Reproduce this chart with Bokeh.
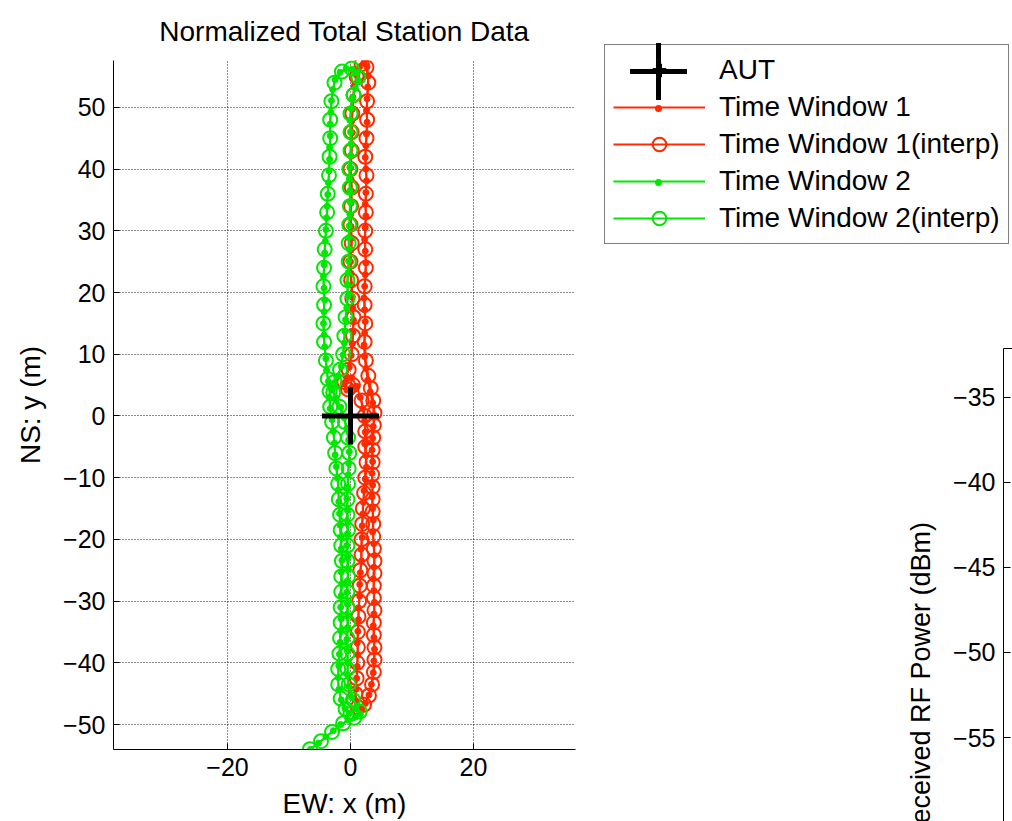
import math
from bokeh.plotting import figure
from bokeh.models import Range1d, FixedTicker, Legend, LegendItem, Label, LinearAxis
from bokeh.layouts import row, column
from bokeh.embed import file_html
from bokeh.resources import INLINE

# ---------------- data ----------------
aut_x = [0.0]
aut_y = [0.0]

# Time Window 1, raw total-station points (x, y) in metres
tw1_raw = [
    (-0.8, 5.5), (0.2, 6.2), (1.0, 4.8), (1.6, 3.0), (2.0, 1.2), (2.3, -0.8), (2.4, -2.6),
    (2.3, -4.5), (2.5, -6.4), (2.6, -8.3), (2.4, -10.2), (2.2, -12.1), (2.1, -14.0),
    (2.0, -15.9), (1.9, -17.8), (1.9, -19.7), (1.7, -21.6), (1.8, -23.5), (1.6, -25.4),
    (1.5, -27.3), (1.5, -29.2), (1.3, -31.1), (1.3, -33.0), (1.2, -34.9), (1.1, -36.8),
    (1.2, -38.7), (1.1, -40.6), (1.0, -42.5), (0.9, -44.3), (0.7, -46.0), (0.9, -47.4),
    (1.7, -47.6), (2.4, -46.6), (3.0, -45.2), (3.4, -43.5), (3.7, -41.6), (3.8, -39.7),
    (3.9, -37.8), (3.8, -35.9), (3.7, -34.0), (3.8, -32.1), (3.9, -30.2), (3.8, -28.3),
    (3.7, -26.4), (3.8, -24.5), (3.9, -22.6), (3.8, -20.7), (3.6, -18.8), (3.7, -16.9),
    (3.6, -15.0), (3.5, -13.1), (3.6, -11.2), (3.5, -9.3), (3.6, -7.4), (3.5, -5.5),
    (3.6, -3.6), (3.7, -1.7), (3.8, 0.2), (3.6, 2.1), (3.2, 3.9), (2.8, 5.8), (2.5, 7.7),
    (2.3, 9.6), (2.2, 11.5), (2.3, 13.4), (2.4, 15.3), (2.3, 17.2), (2.2, 19.1), (2.3, 21.0),
    (2.4, 22.9), (2.5, 24.8), (2.4, 26.7), (2.3, 28.6), (2.4, 30.5), (2.5, 32.4), (2.4, 34.3),
    (2.5, 36.2), (2.6, 38.1), (2.5, 40.0), (2.4, 41.9), (2.5, 43.8), (2.6, 45.7), (2.7, 47.6),
    (2.6, 49.5), (2.7, 51.4), (2.8, 53.3), (2.9, 55.1), (2.7, 56.6), (2.2, 57.3), (1.5, 56.6),
    (1.0, 55.2), (0.6, 53.5), (0.4, 51.6), (0.3, 49.7), (0.2, 47.8), (0.3, 45.9), (0.2, 44.0),
    (0.1, 42.1), (0.0, 40.2), (0.1, 38.3), (0.2, 36.4), (0.1, 34.5), (0.0, 32.6), (0.1, 30.7),
    (0.2, 28.8), (0.1, 26.9), (0.0, 25.0), (0.1, 23.1), (0.2, 21.2), (0.3, 19.3), (0.4, 17.4),
    (0.5, 15.5), (0.4, 13.6), (0.3, 11.7), (0.1, 9.8), (-0.2, 7.9), (-0.7, 6.4), (-1.2, 5.2),
    (-0.6, 4.2), (0.2, 4.6),
]

# Time Window 1, interpolated points
tw1_interp = [
    (1.8, 2.5), (2.3, 0.0), (2.4, -2.5), (2.4, -5.0), (2.6, -7.5), (2.4, -10.0), (2.2, -12.5),
    (2.0, -15.0), (1.9, -17.5), (1.8, -20.0), (1.8, -22.5), (1.6, -25.0), (1.5, -27.5),
    (1.4, -30.0), (1.3, -32.5), (1.2, -35.0), (1.2, -37.5), (1.1, -40.0), (1.0, -42.5),
    (0.8, -45.0), (1.2, -47.2), (2.2, -46.8), (3.0, -45.3), (3.5, -43.5), (3.8, -41.5),
    (3.9, -39.5), (3.9, -37.5), (3.8, -35.5), (3.8, -33.5), (3.9, -31.5), (3.8, -29.5),
    (3.8, -27.5), (3.9, -25.5), (3.9, -23.5), (3.8, -21.5), (3.7, -19.5), (3.7, -17.5),
    (3.6, -15.5), (3.6, -13.5), (3.6, -11.5), (3.5, -9.5), (3.6, -7.5), (3.6, -5.5),
    (3.7, -3.5), (3.8, -1.5), (3.9, 0.5), (3.7, 2.5), (3.3, 4.5), (2.9, 6.5), (2.5, 9.0),
    (2.3, 12.0), (2.4, 15.0), (2.3, 18.0), (2.3, 21.0), (2.5, 24.0), (2.4, 27.0), (2.4, 30.0),
    (2.5, 33.0), (2.5, 36.0), (2.6, 39.0), (2.4, 42.0), (2.6, 45.0), (2.7, 48.0), (2.7, 51.0),
    (2.9, 54.0), (2.6, 56.5), (1.8, 57.0), (1.0, 55.0), (0.5, 52.0), (0.3, 49.0), (0.2, 46.0),
    (0.2, 43.0), (0.0, 40.0), (0.2, 37.0), (0.1, 34.0), (0.0, 31.0), (0.2, 28.0), (0.0, 25.0),
    (0.1, 22.0), (0.3, 19.0), (0.5, 16.0), (0.4, 13.0), (0.2, 10.0), (-0.3, 7.5), (-1.0, 5.5),
    (-0.4, 4.3), (0.4, 5.0),
]

# Time Window 2, raw total-station points
tw2_raw = [
    (-6.5, -54.0), (-5.2, -53.0), (-4.0, -52.0), (-2.8, -51.0), (-1.6, -50.0), (-0.4, -49.3),
    (0.8, -48.8), (1.6, -48.3), (1.0, -47.0), (0.2, -45.6), (-0.3, -43.8), (-0.5, -41.9),
    (-0.4, -40.0), (-0.5, -38.1), (-0.6, -36.2), (-0.5, -34.3), (-0.4, -32.4), (-0.5, -30.5),
    (-0.6, -28.6), (-0.5, -26.7), (-0.4, -24.8), (-0.5, -22.9), (-0.6, -21.0), (-0.5, -19.1),
    (-0.4, -17.2), (-0.5, -15.3), (-0.6, -13.4), (-0.5, -11.5), (-0.4, -9.6), (-0.3, -7.7),
    (-0.2, -5.8), (-0.3, -3.9), (-0.6, -2.0), (-1.0, -0.3), (-1.6, 1.4), (-2.3, 2.9),
    (-3.0, 4.2), (-3.6, 5.6), (-3.9, 7.4), (-4.0, 9.3), (-4.2, 11.2), (-4.3, 13.1),
    (-4.4, 15.0), (-4.3, 16.9), (-4.2, 18.8), (-4.3, 20.7), (-4.4, 22.6), (-4.3, 24.5),
    (-4.2, 26.4), (-4.1, 28.3), (-4.0, 30.2), (-3.9, 32.1), (-3.8, 34.0), (-3.7, 35.9),
    (-3.6, 37.8), (-3.5, 39.7), (-3.4, 41.6), (-3.4, 43.5), (-3.3, 45.4), (-3.3, 47.3),
    (-3.2, 49.2), (-3.1, 51.1), (-2.9, 52.9), (-2.5, 54.5), (-1.7, 55.7), (-0.7, 56.3),
    (0.3, 56.2), (1.1, 55.6), (1.3, 54.4), (0.8, 53.1), (0.3, 51.6), (0.1, 49.8), (-0.1, 47.9),
    (0.0, 46.0), (0.1, 44.1), (0.0, 42.2), (-0.1, 40.3), (-0.2, 38.4), (-0.1, 36.5),
    (0.0, 34.6), (-0.1, 32.7), (-0.2, 30.8), (-0.3, 28.9), (-0.2, 27.0), (-0.3, 25.1),
    (-0.4, 23.2), (-0.5, 21.3), (-0.4, 19.4), (-0.6, 17.5), (-0.8, 15.6), (-0.9, 13.7),
    (-1.0, 11.8), (-1.2, 9.9), (-1.5, 8.0), (-2.0, 6.5), (-2.6, 5.4), (-3.2, 4.5),
    (-3.5, 3.0), (-3.3, 1.2), (-3.0, -0.6), (-2.8, -2.5), (-2.6, -4.4), (-2.5, -6.3),
    (-2.3, -8.2), (-2.1, -10.1), (-2.0, -12.0), (-1.9, -13.9), (-1.8, -15.8), (-1.7, -17.7),
    (-1.6, -19.6), (-1.5, -21.5), (-1.4, -23.4), (-1.5, -25.3), (-1.4, -27.2), (-1.5, -29.1),
    (-1.6, -31.0), (-1.5, -32.9), (-1.6, -34.8), (-1.7, -36.7), (-1.8, -38.6), (-1.9, -40.5),
    (-2.0, -42.4), (-1.9, -44.3), (-1.5, -46.0), (-0.9, -47.4), (-0.2, -48.2),
]

# Time Window 2, interpolated points
tw2_interp = [
    (-6.6, -54.0), (-4.8, -52.7), (-3.0, -51.2), (-1.2, -49.8), (0.6, -48.9), (1.5, -47.9),
    (0.4, -46.0), (-0.3, -43.5), (-0.5, -41.0), (-0.5, -38.5), (-0.5, -36.0), (-0.4, -33.5),
    (-0.5, -31.0), (-0.5, -28.5), (-0.4, -26.0), (-0.5, -23.5), (-0.5, -21.0), (-0.4, -18.5),
    (-0.5, -16.0), (-0.5, -13.5), (-0.4, -11.0), (-0.3, -8.5), (-0.2, -6.0), (-0.4, -3.5),
    (-0.9, -1.0), (-1.8, 1.5), (-2.8, 3.8), (-3.7, 6.0), (-4.0, 9.0), (-4.3, 12.0),
    (-4.4, 15.0), (-4.3, 18.0), (-4.4, 21.0), (-4.3, 24.0), (-4.2, 27.0), (-4.0, 30.0),
    (-3.8, 33.0), (-3.7, 36.0), (-3.5, 39.0), (-3.4, 42.0), (-3.3, 45.0), (-3.3, 48.0),
    (-3.1, 51.0), (-2.6, 54.0), (-1.4, 55.8), (0.2, 56.3), (1.3, 54.9), (0.5, 52.0),
    (0.0, 49.0), (0.0, 46.0), (0.0, 43.0), (-0.2, 40.0), (-0.1, 37.0), (-0.1, 34.0),
    (-0.2, 31.0), (-0.3, 28.0), (-0.3, 25.0), (-0.5, 22.0), (-0.5, 19.0), (-0.8, 16.0),
    (-1.0, 13.0), (-1.2, 10.0), (-1.7, 7.5), (-2.6, 5.5), (-3.4, 4.0), (-3.3, 1.5),
    (-3.0, -1.0), (-2.7, -3.5), (-2.5, -6.0), (-2.3, -8.5), (-2.0, -11.0), (-1.9, -13.5),
    (-1.7, -16.0), (-1.6, -18.5), (-1.5, -21.0), (-1.4, -23.5), (-1.5, -26.0), (-1.5, -28.5),
    (-1.6, -31.0), (-1.6, -33.5), (-1.7, -36.0), (-1.8, -38.5), (-2.0, -41.0), (-2.0, -43.5),
    (-1.6, -45.8), (-0.8, -47.5), (0.0, -48.3),
]

x_ticks = [-20, 0, 20]
y_ticks = [-50, -40, -30, -20, -10, 0, 10, 20, 30, 40, 50]
rf_ticks = [-60, -55, -50, -45, -40, -35]

labels = ["AUT", "Time Window 1", "Time Window 1(interp)",
          "Time Window 2", "Time Window 2(interp)"]

# ---------------- styling ----------------
FONT = "Liberation Sans"
RED = "#ff2a00"
GREEN = "#00e800"
LW = 2.0
PAGE_H = 821


def xs(pts):
    return [p[0] for p in pts]


def ys(pts):
    return [p[1] for p in pts]


def no_align(fig):
    if "frame_align" in fig.properties():
        fig.frame_align = False


# ---------------- main plot ----------------
p = figure(width=600, height=PAGE_H, output_backend="svg", toolbar_location=None,
           x_range=Range1d(-38.54, 36.59), y_range=Range1d(-54.05, 57.6),
           min_border_left=113, min_border_right=25, min_border_top=60,
           min_border_bottom=71)
no_align(p)
p.title.text = "Normalized Total Station Data"
p.title.align = "center"
p.title.text_font = FONT
p.title.text_font_size = "28px"
p.title.text_font_style = "normal"
p.title.text_color = "black"
p.title.standoff = 27
p.outline_line_color = None
p.background_fill_color = "white"
p.border_fill_color = "white"

p.xaxis.ticker = FixedTicker(ticks=x_ticks)
p.yaxis.ticker = FixedTicker(ticks=y_ticks)
p.xaxis.axis_label = "EW: x (m)"
p.yaxis.axis_label = "NS: y (m)"
for ax in (p.xaxis[0], p.yaxis[0]):
    ax.major_tick_in = 6
    ax.major_tick_out = 0
    ax.minor_tick_line_color = None
    ax.axis_line_color = "black"
    ax.major_tick_line_color = "black"
    ax.major_label_text_font = FONT
    ax.major_label_text_font_size = "25px"
    ax.major_label_text_color = "black"
    ax.axis_label_text_font = FONT
    ax.axis_label_text_font_size = "28px"
    ax.axis_label_text_font_style = "normal"
    ax.axis_label_text_color = "black"
p.xaxis.major_label_standoff = 8
p.xaxis.axis_label_standoff = 9
p.yaxis.major_label_standoff = 8
p.yaxis.axis_label_standoff = 14

for g in (p.xgrid[0], p.ygrid[0]):
    g.grid_line_color = "black"
    g.grid_line_dash = "1 2"
    g.grid_line_width = 1
    g.grid_line_alpha = 0.9
p.xgrid.ticker = FixedTicker(ticks=x_ticks)
p.ygrid.ticker = FixedTicker(ticks=y_ticks)

p.line(xs(tw1_raw), ys(tw1_raw), line_color=RED, line_width=LW)
p.scatter(xs(tw1_raw), ys(tw1_raw), marker="circle", size=6,
          fill_color=RED, line_color=RED)
p.line(xs(tw1_interp), ys(tw1_interp), line_color=RED, line_width=LW)
p.scatter(xs(tw1_interp), ys(tw1_interp), marker="circle", size=14,
          fill_color=None, line_color=RED, line_width=LW)

p.line(xs(tw2_raw), ys(tw2_raw), line_color=GREEN, line_width=LW)
p.scatter(xs(tw2_raw), ys(tw2_raw), marker="circle", size=6,
          fill_color=GREEN, line_color=GREEN)
p.line(xs(tw2_interp), ys(tw2_interp), line_color=GREEN, line_width=LW)
p.scatter(xs(tw2_interp), ys(tw2_interp), marker="circle", size=14,
          fill_color=None, line_color=GREEN, line_width=LW)

p.scatter(aut_x, aut_y, marker="cross", size=57, line_color="black", line_width=5)


def blank(width, height):
    f = figure(width=width, height=height, output_backend="svg",
               toolbar_location=None, x_axis_location=None, y_axis_location=None,
               x_range=Range1d(0, width), y_range=Range1d(0, height),
               min_border_left=0, min_border_right=0, min_border_top=0,
               min_border_bottom=0)
    no_align(f)
    f.grid.visible = False
    f.outline_line_color = None
    f.background_fill_color = "white"
    f.border_fill_color = "white"
    return f


# ---------------- legend panel ----------------
RIGHT_W = 412
LEG_H = 300
pl = blank(RIGHT_W, LEG_H)
pad, gw, gh, sp = 8, 92, 34, 3
leg_left, leg_bottom = 4, 56
n_rows = len(labels)
leg_height = 2 * pad + n_rows * gh + (n_rows - 1) * sp
cx = leg_left + pad + gw / 2
row_y = [leg_bottom + leg_height - pad - gh / 2 - i * (gh + sp) for i in range(n_rows)]
off = [-100, -99]  # stand-in line glyphs kept outside the visible range

# legend glyphs drawn at full size on top of the legend's own (smaller) copies
r_aut = pl.scatter([cx], [row_y[0]], marker="cross", size=57, line_color="black",
                   line_width=5)
l1 = pl.line(off, [0, 0], line_color=RED, line_width=LW)
m1 = pl.scatter([cx], [row_y[1]], marker="dot", size=28, line_color=RED,
                fill_color=RED)
l1i = pl.line(off, [0, 0], line_color=RED, line_width=LW)
m1i = pl.scatter(off[:1], [0], marker="circle", size=14, fill_color=None,
                 line_color=RED, line_width=LW)
l2 = pl.line(off, [0, 0], line_color=GREEN, line_width=LW)
m2 = pl.scatter([cx], [row_y[3]], marker="dot", size=28, line_color=GREEN,
                fill_color=GREEN)
l2i = pl.line(off, [0, 0], line_color=GREEN, line_width=LW)
m2i = pl.scatter(off[:1], [0], marker="circle", size=14, fill_color=None,
                 line_color=GREEN, line_width=LW)

legend = Legend(items=[
    LegendItem(label=labels[0], renderers=[r_aut]),
    LegendItem(label=labels[1], renderers=[l1, m1]),
    LegendItem(label=labels[2], renderers=[l1i, m1i]),
    LegendItem(label=labels[3], renderers=[l2, m2]),
    LegendItem(label=labels[4], renderers=[l2i, m2i]),
], location=(leg_left, leg_bottom), glyph_width=gw, glyph_height=gh, spacing=sp,
    padding=pad, margin=0, label_standoff=14,
    label_text_font=FONT, label_text_font_size="28px", label_text_color="black",
    border_line_color="black", border_line_width=1.5,
    background_fill_alpha=0)
pl.add_layout(legend)

# ---------------- partly visible second axes ----------------
LOW_H = PAGE_H - LEG_H
LAB_W = 340
pt = blank(LAB_W, LOW_H)
pt.add_layout(Label(x=320, y=139, text="Received RF Power (dBm)", angle=math.pi / 2,
                    text_align="center", text_baseline="middle",
                    text_font=FONT, text_font_size="27px", text_color="black"))

p2 = figure(width=RIGHT_W - LAB_W, height=LOW_H, output_backend="svg",
            toolbar_location=None,
            x_range=Range1d(0, 1), y_range=Range1d(-59.94, -32.12),
            x_axis_location=None,
            min_border_left=63, min_border_right=0, min_border_top=48,
            min_border_bottom=0)
no_align(p2)
p2.grid.visible = False
p2.outline_line_color = None
p2.background_fill_color = "white"
p2.border_fill_color = "white"
ay = p2.yaxis[0]
ay.ticker = FixedTicker(ticks=rf_ticks)
ay.major_tick_in = 7
ay.major_tick_out = 0
ay.minor_tick_line_color = None
ay.axis_line_color = "black"
ay.major_label_text_font = FONT
ay.major_label_text_font_size = "25px"
ay.major_label_text_color = "black"
ay.major_label_standoff = 8
top_edge = LinearAxis(ticker=FixedTicker(ticks=[]), axis_line_color="black",
                      major_tick_line_color=None, minor_tick_line_color=None)
p2.add_layout(top_edge, "above")

layout = row(p, column(pl, row(pt, p2)))
open("out.html", "w").write(file_html(layout, INLINE))
